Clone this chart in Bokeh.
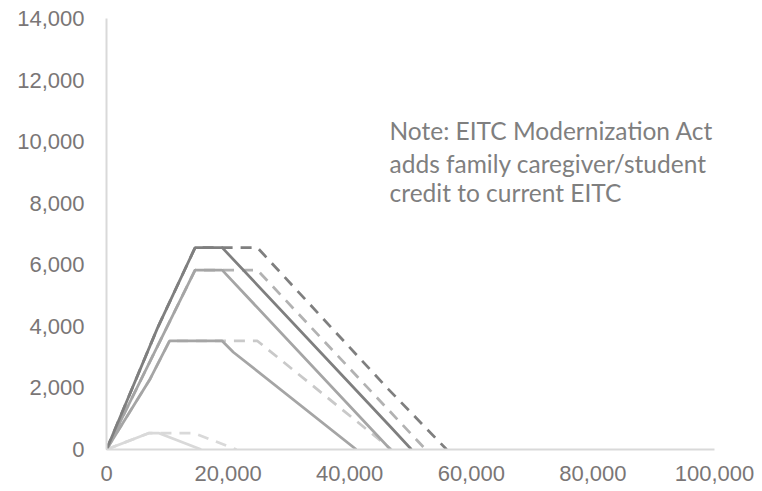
from bokeh.plotting import figure
from bokeh.models import Range1d, FixedTicker, NumeralTickFormatter, Label
from bokeh.embed import file_html
from bokeh.resources import INLINE

# ---- data (income, credit) ----
inc_3_cur = [0, 8400, 14570, 19030, 46700, 50160]
eitc_3_cur = [0, 3950, 6557, 6557, 740, 0]
inc_3_new = [0, 8400, 14570, 24820, 46300, 55950]
eitc_3_new = [0, 3950, 6557, 6557, 1970, 0]

inc_2_cur = [0, 14570, 19030, 46700]
eitc_2_cur = [0, 5828, 5828, 0]
inc_2_new = [0, 14570, 24820, 52490]
eitc_2_new = [0, 5828, 5828, 0]

inc_1_cur = [0, 7200, 10370, 19030, 20870, 41090]
eitc_1_cur = [0, 2300, 3526, 3526, 3160, 0]
inc_1_new = [0, 7200, 10370, 24820, 46880]
eitc_1_new = [0, 2300, 3526, 3526, 0]

inc_0_cur = [0, 6920, 8650, 15570]
eitc_0_cur = [0, 529, 529, 0]
inc_0_new = [0, 6920, 14450, 21370]
eitc_0_new = [0, 529, 529, 0]

x_ticks = [0, 20000, 40000, 60000, 80000, 100000]
y_ticks = [0, 2000, 4000, 6000, 8000, 10000, 12000, 14000]

note_lines = ["Note: EITC Modernization Act",
              "adds family caregiver/student",
              "credit to current EITC"]

p = figure(width=755, height=489, output_backend="svg", toolbar_location=None,
           x_range=Range1d(0, 100000), y_range=Range1d(0, 14000),
           min_border_left=106, min_border_right=41, min_border_top=18,
           min_border_bottom=40)
p.outline_line_color = None
p.xgrid.visible = False
p.ygrid.visible = False
p.background_fill_color = "white"
p.border_fill_color = "white"

LW = 2.75
DASH = "11 8"
# dashed (modernization) lines underneath
p.line(inc_0_new, eitc_0_new, line_color="#d9d9d9", line_width=LW, line_dash=DASH)
p.line(inc_1_new, eitc_1_new, line_color="#c9c9c9", line_width=LW, line_dash=DASH)
p.line(inc_2_new, eitc_2_new, line_color="#b2b2b2", line_width=LW, line_dash=DASH)
p.line(inc_3_new, eitc_3_new, line_color="#7f7f7f", line_width=LW, line_dash=DASH)
# solid (current) lines
p.line(inc_0_cur, eitc_0_cur, line_color="#d9d9d9", line_width=LW)
p.line(inc_1_cur, eitc_1_cur, line_color="#a5a5a5", line_width=LW)
p.line(inc_2_cur, eitc_2_cur, line_color="#a5a5a5", line_width=LW)
p.line(inc_3_cur, eitc_3_cur, line_color="#7f7f7f", line_width=LW)

for ax, ticks in ((p.xaxis[0], x_ticks), (p.yaxis[0], y_ticks)):
    ax.ticker = FixedTicker(ticks=ticks)
    ax.formatter = NumeralTickFormatter(format="0,0")
    ax.axis_line_color = "#d9d9d9"
    ax.axis_line_width = 2
    ax.major_tick_line_color = None
    ax.minor_tick_line_color = None
    ax.major_label_text_font = "Liberation Sans"
    ax.major_label_text_font_size = "22px"
    ax.major_label_text_color = "#7a7676"
p.xaxis[0].major_label_standoff = 10
p.yaxis[0].major_label_standoff = 16

note_y = [10360, 9297, 8353]
for txt, yv in zip(note_lines, note_y):
    p.add_layout(Label(x=46550, y=yv, text=txt, text_font="Lato",
                       text_font_size="24.5px", text_color="#7f7f7f",
                       text_baseline="alphabetic", text_align="left"))

open("out.html", "w").write(file_html(p, INLINE))
